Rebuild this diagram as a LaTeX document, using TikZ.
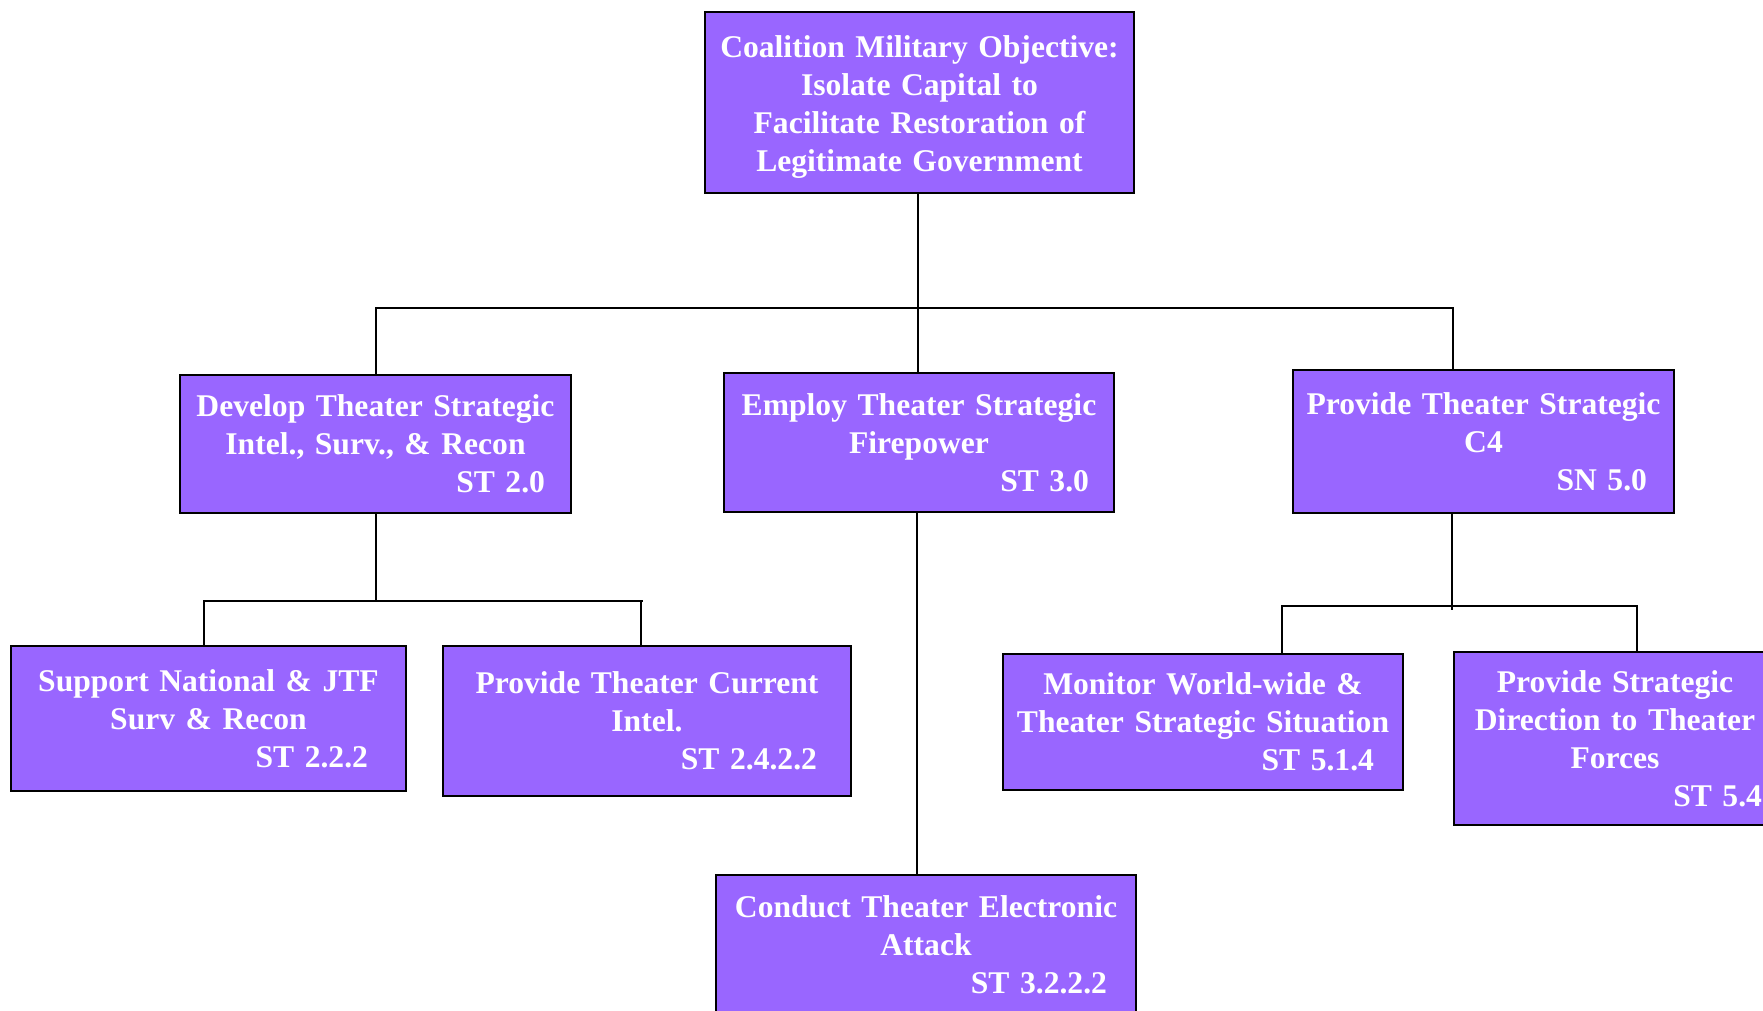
\documentclass[tikz,border=0pt]{standalone}
\usepackage{fontspec}
\setmainfont{Liberation Serif}
\definecolor{taskfill}{HTML}{9966FF}
% right-aligned task number with a given right margin
\newcommand\taskcode[2][10pt]{\makebox[\hsize][r]{#2\hspace*{#1}}}
\begin{document}
\begin{tikzpicture}[x=0.5pt,y=-0.5pt,
  task/.style={draw=black, line width=0.8pt, fill=taskfill, text=white,
    rectangle, inner xsep=3pt, inner ysep=0pt, align=center,
    font=\fontsize{15.8pt}{19pt}\selectfont\bfseries},
  conn/.style={draw=black, line width=0.85pt}]
\useasboundingbox (0,0) rectangle (1763,1011);
\clip (0,0) rectangle (1763,1011);

% objective
\node[task, minimum width=214.5pt, minimum height=90.5pt, text width=208.5pt] (top) at (919.5,102.5)
  {\rule{0pt}{15.4pt}Coalition Military Objective:\\Isolate Capital to\\Facilitate Restoration of\\Legitimate Government};

% second level
\node[task, minimum width=195.5pt, minimum height=69pt, text width=189.5pt] (st2) at (375.5,444)
  {Develop Theater Strategic\\Intel., Surv., \& Recon\\\taskcode[10pt]{ST 2.0}};
\node[task, minimum width=195pt, minimum height=69.5pt, text width=189pt] (st3) at (919,442.5)
  {Employ Theater Strategic\\Firepower\\\taskcode[9.5pt]{ST 3.0}};
\node[task, minimum width=190.5pt, minimum height=71.5pt, text width=184.5pt] (sn5) at (1483.5,441.5)
  {Provide Theater Strategic\\C4\\\taskcode[10.5pt]{SN 5.0}};

% third level
\node[task, minimum width=197.5pt, minimum height=72.5pt, text width=191.5pt] (st222) at (208.5,718.5)
  {Support National \& JTF\\Surv \& Recon\\\taskcode[16pt]{ST 2.2.2}};
\node[task, minimum width=204pt, minimum height=75pt, text width=198pt] (st2422) at (647,721)
  {Provide Theater Current\\Intel.\\\taskcode[14pt]{ST 2.4.2.2}};
\node[task, minimum width=200pt, minimum height=68pt, text width=194pt] (st514) at (1203,722)
  {Monitor World-wide \&\\Theater Strategic Situation\\\taskcode[11.5pt]{ST 5.1.4}};
\node[task, minimum width=161pt, minimum height=86.5pt, text width=155pt] (st54) at (1615,738.5)
  {Provide Strategic\\Direction to Theater\\Forces\\\taskcode[4pt]{ST 5.4}};
\node[task, minimum width=210pt, minimum height=70pt, text width=204pt] (st3222) at (926,945)
  {Conduct Theater Electronic\\Attack\\\taskcode[11.5pt]{ST 3.2.2.2}};

% bus under the objective
\coordinate (b1L) at (376,308);
\coordinate (b1M) at (918,308);
\coordinate (b1R) at (1453,308);
\draw[conn] (b1M |- top.south) -- (b1M);
\draw[conn] (b1L |- st2.north) -- (b1L) -- (b1R) -- (b1R |- sn5.north);
\draw[conn] (b1M) -- (b1M |- st3.north);

% bus under ST 2.0
\coordinate (b2L) at (204,601);
\coordinate (b2M) at (376,601);
\coordinate (b2R) at (641,601);
\coordinate (b2E) at (643,601);
\draw[conn] (b2M |- st2.south) -- (b2M);
\draw[conn] (b2L |- st222.north) -- (b2L) -- (b2E);
\draw[conn] (b2R) -- (b2R |- st2422.north);

% ST 3.0 down to ST 3.2.2.2
\coordinate (b4) at (917,700);
\draw[conn] (b4 |- st3.south) -- (b4 |- st3222.north);

% bus under SN 5.0
\coordinate (b3L) at (1282,606);
\coordinate (b3M) at (1452,606);
\coordinate (b3E) at (1452,610);
\coordinate (b3R) at (1637,606);
\draw[conn] (b3M |- sn5.south) -- (b3E);
\draw[conn] (b3L |- st514.north) -- (b3L) -- (b3R) -- (b3R |- st54.north);
\end{tikzpicture}
\end{document}
